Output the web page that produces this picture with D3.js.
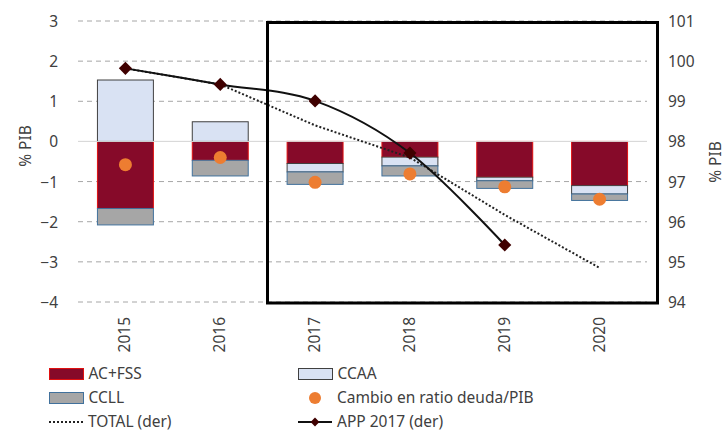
<!DOCTYPE html>
<html>
<head>
<meta charset="utf-8">
<script src="https://cdn.jsdelivr.net/npm/d3@7"></script>
<style>
  body { margin: 0; background: #fff; }
  text { font-family: "Noto Sans", "Open Sans", sans-serif; fill: #404040; }
</style>
</head>
<body>
<script>
// data
const years = ["2015", "2016", "2017", "2018", "2019", "2020"];
const acFss = [-1.67, -0.47, -0.55, -0.39, -0.89, -1.10];
const ccaa = [1.53, 0.49, -0.21, -0.22, -0.09, -0.21];
const ccll = [-0.41, -0.39, -0.31, -0.25, -0.19, -0.16];
const cambioRatio = [-0.58, -0.40, -1.02, -0.81, -1.13, -1.44];
const totalDer = [99.82, 99.42, 98.40, 97.60, 96.17, 94.85];
const app2017 = [99.82, 99.42, 99.01, 97.71, 95.42]; // 2015-2019
const leftTicks = [3, 2, 1, 0, -1, -2, -3, -4];
const rightTicks = [101, 100, 99, 98, 97, 96, 95, 94];

const W = 725, H = 431;
const svg = d3.select("body").append("svg").attr("width", W).attr("height", H);

const x = d3.scaleBand().domain(years).range([78, 647]).paddingInner(0.41).paddingOuter(0.205);
const y = d3.scaleLinear().domain([-4, 3]).range([302, 21]);
const y2 = d3.scaleLinear().domain([94, 101]).range([302, 21]);

// gridlines
svg.append("g")
  .selectAll("line")
  .data(leftTicks)
  .join("line")
  .attr("x1", 78).attr("x2", 647)
  .attr("y1", (d) => y(d)).attr("y2", (d) => y(d))
  .attr("stroke", (d) => (d === 0 ? "#d9d9d9" : "#a6a6a6"))
  .attr("stroke-width", 1)
  .attr("stroke-dasharray", (d) => (d === 0 ? null : "5,4"));

// left axis
const yAxis = svg.append("g")
  .attr("transform", "translate(64,0)")
  .call(d3.axisLeft(y).tickValues(leftTicks).tickFormat(d3.format("d")).tickSize(0).tickPadding(6));
yAxis.select(".domain").remove();
yAxis.selectAll("text").style("font-size", "15.5px").attr("font-family", null).attr("dy", "0.35em");

// right axis
const y2Axis = svg.append("g")
  .attr("transform", "translate(662,0)")
  .call(d3.axisRight(y2).tickValues(rightTicks).tickFormat(d3.format("d")).tickSize(0).tickPadding(6));
y2Axis.select(".domain").remove();
y2Axis.selectAll("text").style("font-size", "15.5px").attr("font-family", null).attr("dy", "0.35em");

// axis titles
svg.append("text")
  .attr("transform", "translate(31,146) rotate(-90)")
  .attr("text-anchor", "middle")
  .style("font-size", "15.5px")
  .text("% PIB");
svg.append("text")
  .attr("transform", "translate(721,162) rotate(-90)")
  .attr("text-anchor", "middle")
  .style("font-size", "15.5px")
  .text("% PIB");

// x labels (rotated)
svg.append("g")
  .selectAll("text")
  .data(years)
  .join("text")
  .attr("transform", (d) => `translate(${x(d) + x.bandwidth() / 2 + 5},317) rotate(-90)`)
  .attr("text-anchor", "end")
  .style("font-size", "15.5px")
  .text((d) => d);

// stacked bars
const table = years.map((yr, i) => ({ year: yr, ac: acFss[i], ccaa: ccaa[i], ccll: ccll[i] }));
const stack = d3.stack().keys(["ac", "ccaa", "ccll"]).offset(d3.stackOffsetDiverging);
const series = stack(table);
const fills = { ac: "#860a29", ccaa: "#d9e2f3", ccll: "#a6a6a6" };
const strokes = { ac: "#e01010", ccaa: "#404040", ccll: "#41719c" };

series.forEach((s) => {
  svg.append("g")
    .selectAll("rect")
    .data(s)
    .join("rect")
    .attr("x", (d) => x(d.data.year))
    .attr("width", x.bandwidth())
    .attr("y", (d) => y(Math.max(d[0], d[1])))
    .attr("height", (d) => Math.abs(y(d[0]) - y(d[1])))
    .attr("fill", fills[s.key])
    .attr("stroke", strokes[s.key])
    .attr("stroke-width", 1);
});

// zero line over the bars
svg.append("line")
  .attr("x1", 78).attr("x2", 647)
  .attr("y1", y(0)).attr("y2", y(0))
  .attr("stroke", "#d9d9d9");

// dots
svg.append("g")
  .selectAll("circle")
  .data(cambioRatio)
  .join("circle")
  .attr("cx", (d, i) => x(years[i]) + x.bandwidth() / 2)
  .attr("cy", (d) => y(d))
  .attr("r", 6.5)
  .attr("fill", "#ed7d31");

// TOTAL (der) dotted
const lineTotal = d3.line()
  .x((d, i) => x(years[i]) + x.bandwidth() / 2)
  .y((d) => y2(d));
svg.append("path")
  .attr("d", lineTotal(totalDer))
  .attr("fill", "none")
  .attr("stroke", "#222")
  .attr("stroke-width", 2)
  .attr("stroke-dasharray", "2,2");

// APP 2017 (der) smoothed
const lineApp = d3.line()
  .x((d, i) => x(years[i]) + x.bandwidth() / 2)
  .y((d) => y2(d))
  .curve(d3.curveCatmullRom.alpha(0));
svg.append("path")
  .attr("d", lineApp(app2017))
  .attr("fill", "none")
  .attr("stroke", "#111")
  .attr("stroke-width", 2);

svg.append("g")
  .selectAll("path")
  .data(app2017)
  .join("path")
  .attr("d", d3.symbol(d3.symbolDiamond2, 110))
  .attr("transform", (d, i) => `translate(${x(years[i]) + x.bandwidth() / 2},${y2(d)})`)
  .attr("fill", "#3f0000");

// highlight box
svg.append("rect")
  .attr("x", 267.5).attr("y", 22.5)
  .attr("width", 390).attr("height", 280.5)
  .attr("fill", "none")
  .attr("stroke", "#000")
  .attr("stroke-width", 3);

// legend
const leg = svg.append("g").style("font-size", "15.5px");
function legBox(lx, ly, fill, stroke, label) {
  leg.append("rect").attr("x", lx).attr("y", ly - 5.5).attr("width", 34).attr("height", 11)
    .attr("fill", fill).attr("stroke", stroke);
  leg.append("text").attr("x", lx + 39).attr("y", ly).attr("dy", "0.35em").text(label);
}
legBox(49.5, 374, fills.ac, strokes.ac, "AC+FSS");
legBox(298.5, 374, fills.ccaa, strokes.ccaa, "CCAA");
legBox(49.5, 398, fills.ccll, strokes.ccll, "CCLL");

leg.append("circle").attr("cx", 315).attr("cy", 398).attr("r", 6).attr("fill", "#ed7d31");
leg.append("text").attr("x", 337).attr("y", 398).attr("dy", "0.35em").text("Cambio en ratio deuda/PIB");

leg.append("line").attr("x1", 49).attr("x2", 83).attr("y1", 422).attr("y2", 422)
  .attr("stroke", "#222").attr("stroke-width", 2).attr("stroke-dasharray", "2,2");
leg.append("text").attr("x", 88).attr("y", 422).attr("dy", "0.35em").text("TOTAL (der)");

leg.append("line").attr("x1", 298).attr("x2", 332).attr("y1", 422).attr("y2", 422)
  .attr("stroke", "#111").attr("stroke-width", 2);
leg.append("path").attr("d", d3.symbol(d3.symbolDiamond2, 50))
  .attr("transform", "translate(315,422)").attr("fill", "#3f0000");
leg.append("text").attr("x", 337).attr("y", 422).attr("dy", "0.35em").text("APP 2017 (der)");
</script>
</body>
</html>
